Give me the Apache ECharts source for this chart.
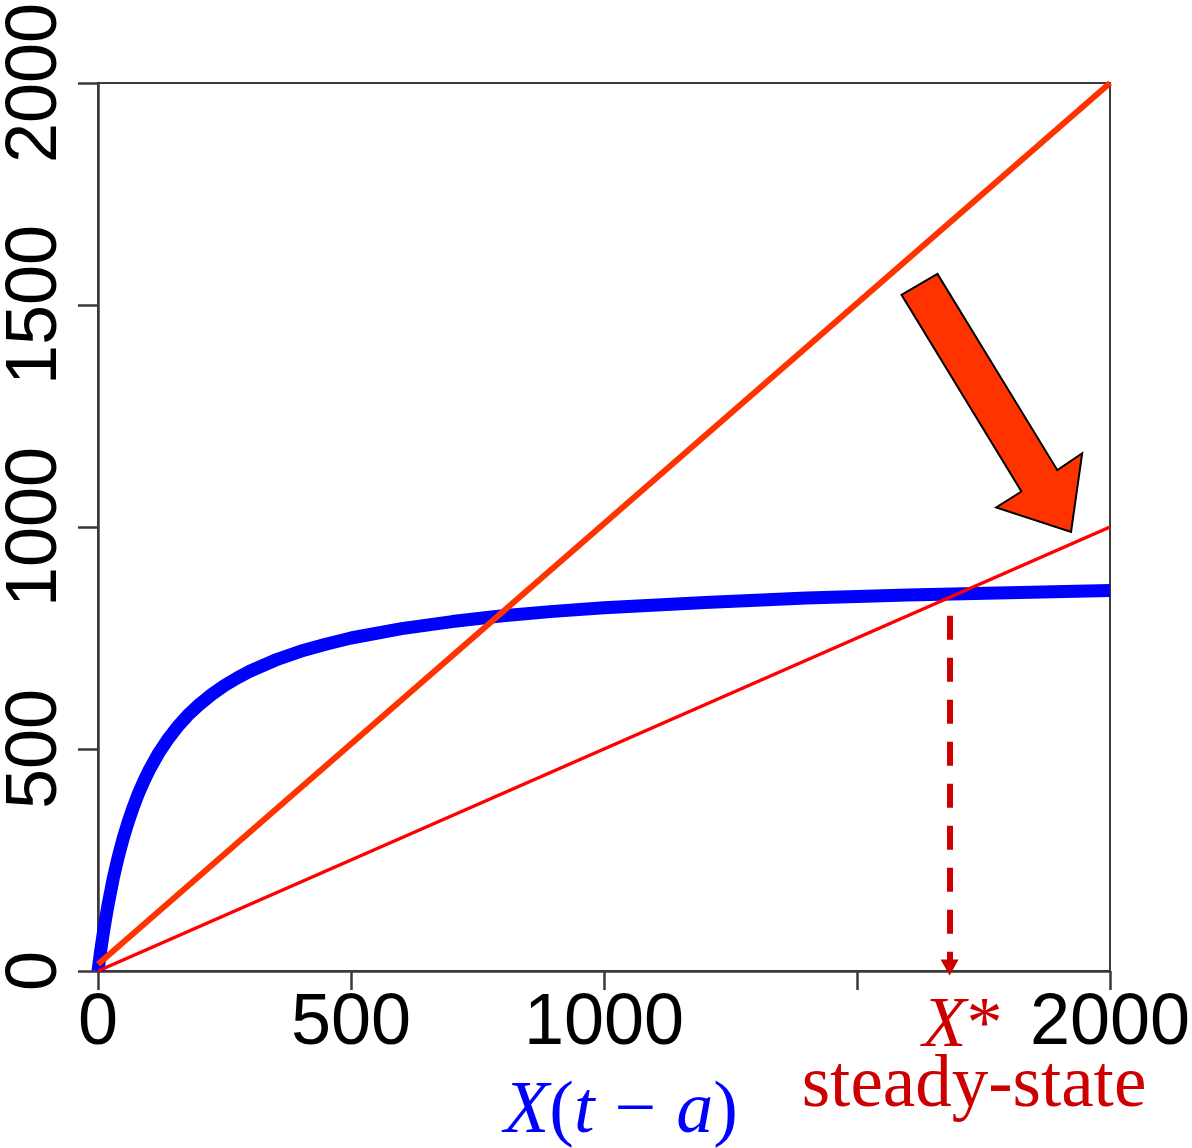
<!DOCTYPE html>
<html>
<head>
<meta charset="utf-8">
<title>Steady state of the stock-recruitment map</title>
<script src="https://cdn.jsdelivr.net/npm/echarts@6/dist/echarts.min.js"></script>
<style>
  html, body { margin: 0; padding: 0; background: #ffffff; }
  #chart { width: 1192px; height: 1148px; }
</style>
</head>
<body>
<div id="chart"></div>
<script>
// Recruitment curve X(t) as a function of X(t - a)
const curveX = [0, 5, 10, 15, 20, 30, 40, 50, 60, 70, 80, 90, 100, 120, 140, 160, 180, 200, 225, 250, 275, 300, 350, 400, 450, 500, 600, 700, 800, 900, 1000, 1200, 1400, 1600, 1800, 2000];
const curveY = [0, 43, 82, 117, 150, 208, 257, 300, 337, 370, 400, 426, 450, 491, 525, 554, 579, 600, 623, 643, 660, 675, 700, 720, 736, 750, 771, 787, 800, 810, 818, 830, 840, 847, 852, 857];

// Steep replacement line (slope 1) and shallow replacement line (slope 1/2)
const steepX = [0, 2000];
const steepY = [15, 2000];
const shallowX = [0, 2000];
const shallowY = [0, 1000];

// Steady state X* where the shallow line meets the curve
const steadyX = 1683;
const steadyDropFrom = 800;
const steadyDropTo = 8;

// Axis ticks
const tickValues = [0, 500, 1000, 1500, 2000];
const hiddenXTicks = [1500];

// Block arrow (in data units) showing the slope being lowered
const arrowX = [1588, 1659, 1896, 1945, 1923, 1775, 1825];
const arrowY = [1523, 1570, 1128, 1166, 989, 1044, 1080];

const pairs = (xs, ys) => xs.map((x, i) => [x, ys[i]]);

const chart = echarts.init(document.getElementById('chart'), null, { renderer: 'canvas' });

const axisColor = '#3a3a3a';
const labelFont = { fontFamily: 'Liberation Sans', fontSize: 72, color: '#000000' };

chart.setOption({
  animation: false,
  backgroundColor: '#ffffff',
  grid: {
    left: 98, right: 82, top: 83, bottom: 177,
    show: true, borderColor: axisColor, borderWidth: 2,
    backgroundColor: 'transparent',
    outerBoundsMode: 'none'
  },
  xAxis: {
    type: 'value', min: 0, max: 2000, interval: 500,
    axisLine: { show: true, onZero: false, lineStyle: { color: axisColor, width: 2.5 } },
    axisTick: { show: true, length: 19, lineStyle: { color: axisColor, width: 2.5 } },
    splitLine: { show: false },
    axisLabel: Object.assign({
      margin: 17,
      hideOverlap: false,
      formatter: v => hiddenXTicks.includes(v) ? '' : String(v)
    }, labelFont)
  },
  yAxis: {
    type: 'value', min: 0, max: 2000, interval: 500,
    axisLine: { show: true, onZero: false, lineStyle: { color: axisColor, width: 2.5 } },
    axisTick: { show: true, length: 20, lineStyle: { color: axisColor, width: 2.5 } },
    splitLine: { show: false },
    axisLabel: Object.assign({
      rotate: 90,
      margin: 26,
      hideOverlap: false,
      formatter: v => tickValues.includes(v) ? String(v) : ''
    }, labelFont)
  },
  series: [
    {
      name: 'recruitment',
      type: 'line',
      data: pairs(curveX, curveY),
      showSymbol: false,
      lineStyle: { color: '#0000ff', width: 13, join: 'round' },
      z: 2
    },
    {
      name: 'slope 1',
      type: 'line',
      data: pairs(steepX, steepY),
      showSymbol: false,
      lineStyle: { color: '#ff3300', width: 6 },
      z: 3
    },
    {
      name: 'slope 1/2',
      type: 'line',
      data: pairs(shallowX, shallowY),
      showSymbol: false,
      lineStyle: { color: '#ff0000', width: 3.5 },
      z: 4,
      markLine: {
        silent: true,
        symbol: ['none', 'triangle'],
        symbolSize: [18, 16],
        label: { show: false },
        lineStyle: { color: '#cc0000', width: 6, type: [24, 18], dashOffset: 0, opacity: 1 },
        emphasis: { disabled: true },
        data: [[
          { coord: [steadyX, steadyDropFrom] },
          { coord: [steadyX, steadyDropTo] }
        ]]
      }
    }
  ]
});

function drawOverlay() {
  const arrowPts = arrowX.map((x, i) => chart.convertToPixel({ gridIndex: 0 }, [x, arrowY[i]]));
  const starPx = chart.convertToPixel({ gridIndex: 0 }, [steadyX, 0]);
  chart.setOption({
    graphic: [
      {
        type: 'polygon',
        shape: { points: arrowPts },
        style: { fill: '#ff3300', stroke: '#000000', lineWidth: 2 },
        z: 10
      },
      {
        type: 'text',
        x: starPx[0] - 27, y: 1027,
        style: {
          text: '{i|X}{n|*}',
          verticalAlign: 'middle', align: 'left',
          rich: {
            i: { fontFamily: 'Liberation Serif', fontStyle: 'italic', fontSize: 72, fill: '#cc0000' },
            n: { fontFamily: 'Liberation Serif', fontSize: 72, fill: '#cc0000' }
          }
        },
        z: 10
      },
      {
        type: 'text',
        x: 974, y: 1087,
        style: {
          text: 'steady-state',
          fontFamily: 'Liberation Serif', fontSize: 73, fill: '#cc0000',
          align: 'center', verticalAlign: 'middle'
        },
        z: 10
      },
      {
        type: 'text',
        x: 621, y: 1113,
        style: {
          text: '{i|X}{n|(}{i|t}{s|}{n|−}{s|}{i|a}{n|)}',
          align: 'center', verticalAlign: 'middle',
          rich: {
            i: { fontFamily: 'Liberation Serif', fontStyle: 'italic', fontSize: 74, fill: '#0000ff' },
            n: { fontFamily: 'Liberation Serif', fontSize: 74, fill: '#0000ff' },
            s: { width: 20, fontSize: 74 }
          }
        },
        z: 10
      }
    ]
  });
}
drawOverlay();
</script>
</body>
</html>
